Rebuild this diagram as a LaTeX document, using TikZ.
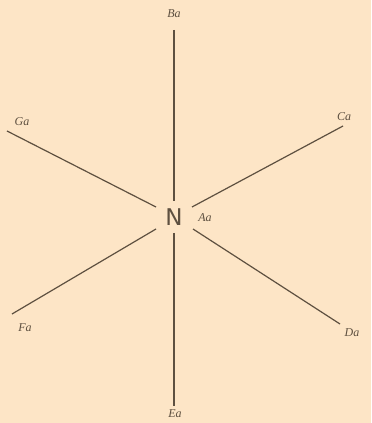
\documentclass[tikz,border=0pt]{standalone}
\usepackage{fontspec}
\setmainfont{Liberation Serif}
\setsansfont{DejaVu Sans}
\begin{document}
\begin{tikzpicture}[x=0.75pt,y=-0.75pt,
  ray/.style={draw=lineclr,line width=0.9pt},
  lab/.style={text=lineclr,font=\itshape\small,inner sep=0pt}]
\definecolor{bgclr}{HTML}{FDE5C6}
\definecolor{lineclr}{HTML}{5E5040}
\fill[bgclr] (0,0) rectangle (371,423);
\useasboundingbox (0,0) rectangle (371,423);
\node[text=lineclr,font=\sffamily\LARGE,inner sep=0pt] (N) at (174,217) {N};
\node[lab] (Aa) at (205,218) {Aa};
\node[lab] (Ba) at (174,14) {Ba};
\node[lab] (Ga) at (22,122) {Ga};
\node[lab] (Ca) at (344,117) {Ca};
\node[lab] (Fa) at (25,328) {Fa};
\node[lab] (Da) at (352,333) {Da};
\node[lab] (Ea) at (175,414) {Ea};
\coordinate (bt) at (174,30);
\coordinate (bb) at (174,201);
\coordinate (et) at (174,233);
\coordinate (eb) at (174,406);
\coordinate (g1) at (7,131);
\coordinate (g2) at (156,207);
\coordinate (c1) at (343,126);
\coordinate (c2) at (192,207);
\coordinate (f1) at (12,314);
\coordinate (f2) at (156,229);
\coordinate (d1) at (193,229);
\coordinate (d2) at (340,324);
\draw[ray] (bt) -- (bb);
\draw[ray] (et) -- (eb);
\draw[ray] (g1) -- (g2);
\draw[ray] (c1) -- (c2);
\draw[ray] (f1) -- (f2);
\draw[ray] (d1) -- (d2);
\end{tikzpicture}
\end{document}
